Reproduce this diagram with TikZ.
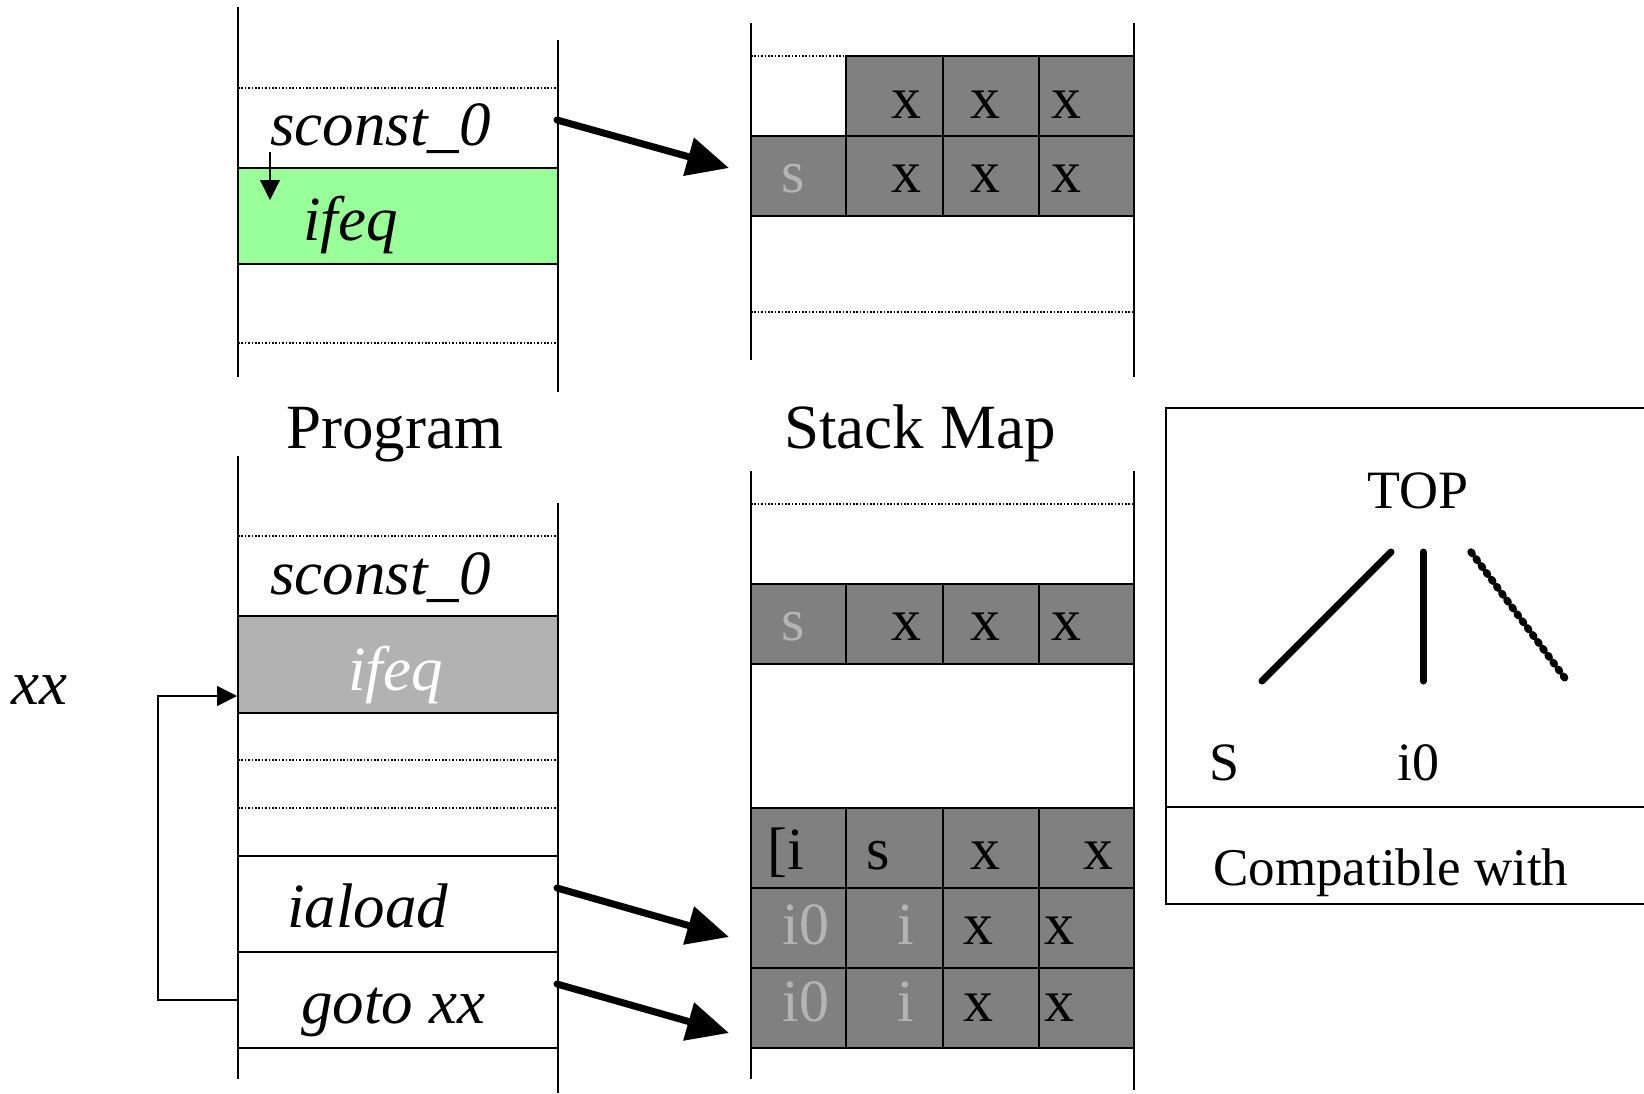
\documentclass[tikz,border=0pt]{standalone}
\usepackage{fontspec}
\setmainfont{Liberation Serif}
\usetikzlibrary{arrows.meta}

\definecolor{opgreen}{RGB}{153,255,153}
\definecolor{opgray}{RGB}{178,178,178}
\definecolor{slotgray}{RGB}{128,128,128}
\definecolor{fainttext}{RGB}{180,180,180}

\tikzset{
  rail/.style={line width=1pt},
  dotrule/.style={line width=0.7pt, dash pattern=on 0.8pt off 0.9pt},
  cellbox/.style={draw, line width=1pt},
  slot/.style={draw, line width=1pt, fill=slotgray},
  code/.style={font=\fontsize{31.5pt}{36pt}\selectfont\itshape, inner sep=0pt, anchor=base west},
  heading/.style={font=\fontsize{31.5pt}{36pt}\selectfont, inner sep=0pt, anchor=base west},
  celltext/.style={font=\fontsize{30pt}{34pt}\selectfont, inner sep=0pt, anchor=base},
  fainttxt/.style={celltext, text=fainttext},
  latticetxt/.style={font=\fontsize{27pt}{30pt}\selectfont, inner sep=0pt, anchor=base},
  bigarrow/.style={line width=3.5pt, line cap=round, -{Triangle[length=21pt,width=19pt]}},
  jump/.style={line width=0.9pt, -{Triangle[length=10pt,width=10pt]}},
  fall/.style={line width=0.6pt, -{Triangle[length=10pt,width=10pt]}},
  edge/.style={line width=3.5pt, line cap=round},
  dotedge/.style={line width=3.7pt, line cap=round, dash pattern=on 1pt off 3.3pt},
}

\begin{document}
\begin{tikzpicture}[x=0.5pt,y=-0.5pt]
\useasboundingbox (0,0) rectangle (1644,1093);

% ---------- upper program column ----------
\draw[rail] (238,7) -- (238,377);
\draw[rail] (558,40) -- (558,392);
\draw[dotrule] (238,88) -- (558,88);
\draw[dotrule] (238,343) -- (558,343);
\draw[cellbox, fill=opgreen] (238,168) rectangle (558,264);
\node[code] (tsconst) at (270,145) {sconst\_0};
\node[code] (tifeq) at (303,240) {ifeq};
\coordinate (fallA) at (270,152);
\coordinate (fallB) at (270,200);
\draw[fall] (fallA) -- (fallB);

% ---------- upper stack map ----------
\draw[rail] (751,23) -- (751,360);
\draw[rail] (1134,23) -- (1134,377);
\draw[dotrule] (751,56) -- (846,56);
\draw[dotrule] (751,312) -- (1134,312);
\foreach \xa/\xb in {846/943, 943/1039, 1039/1134}
  \draw[slot] (\xa,56) rectangle (\xb,136);
\foreach \xa/\xb in {751/846, 846/943, 943/1039, 1039/1134}
  \draw[slot] (\xa,136) rectangle (\xb,216);
\node[celltext] (ua2) at (906,118) {x};
\node[celltext] (ua3) at (985,118) {x};
\node[celltext] (ua4) at (1066,118) {x};
\node[fainttxt] (ub1) at (793,192) {s};
\node[celltext] (ub2) at (906,192) {x};
\node[celltext] (ub3) at (985,192) {x};
\node[celltext] (ub4) at (1066,192) {x};

% ---------- headings ----------
\node[heading] (hprog) at (286,448) {Program};
\node[heading] (hmap) at (784,448) {Stack Map};

% ---------- lower program column ----------
\draw[rail] (238,456) -- (238,1079);
\draw[rail] (558,503) -- (558,1093);
\draw[dotrule] (238,536) -- (558,536);
\draw[dotrule] (238,760) -- (558,760);
\draw[dotrule] (238,808) -- (558,808);
\draw[cellbox, fill=opgray] (238,616) rectangle (558,713);
\draw[cellbox] (238,856) rectangle (558,952);
\draw[cellbox] (238,952) rectangle (558,1048);
\node[code] (lsconst) at (270,594) {sconst\_0};
\node[code, text=white] (lifeq) at (348,690) {ifeq};
\node[code] (liaload) at (287,927) {iaload};
\node[code] (lgoto) at (301,1023) {goto xx};
\node[code] (lbl) at (11,704) {xx};

% backward branch of goto xx
\coordinate (loopFrom) at (238,1000);
\coordinate (loopTo) at (237,696);
\draw[jump] (loopFrom) -- (158,1000) -- (158,696) -- (loopTo);

% ---------- lower stack map ----------
\draw[rail] (751,471) -- (751,1079);
\draw[rail] (1134,471) -- (1134,1090);
\draw[dotrule] (751,504) -- (1134,504);
\foreach \ya/\yb in {584/664, 808/888, 888/968, 968/1048}
  \foreach \xa/\xb in {751/846, 846/943, 943/1039, 1039/1134}
    \draw[slot] (\xa,\ya) rectangle (\xb,\yb);
\node[fainttxt] (la1) at (793,640) {s};
\node[celltext] (la2) at (906,640) {x};
\node[celltext] (la3) at (985,640) {x};
\node[celltext] (la4) at (1066,640) {x};
\node[celltext, anchor=base west] (lb1) at (767,869) {[i};
\node[celltext] (lb2) at (878,869) {s};
\node[celltext] (lb3) at (985,869) {x};
\node[celltext] (lb4) at (1098,869) {x};
\node[fainttxt] (lc1) at (806,944) {i0};
\node[fainttxt] (lc2) at (906,944) {i};
\node[celltext] (lc3) at (978,944) {x};
\node[celltext] (lc4) at (1059,944) {x};
\node[fainttxt] (ld1) at (806,1021) {i0};
\node[fainttxt] (ld2) at (906,1021) {i};
\node[celltext] (ld3) at (978,1021) {x};
\node[celltext] (ld4) at (1059,1021) {x};

% ---------- instruction -> stack map arrows ----------
\coordinate (a1s) at (557,120);  \coordinate (a1e) at (729,168);
\coordinate (a2s) at (557,888);  \coordinate (a2e) at (729,937);
\coordinate (a3s) at (557,984);  \coordinate (a3e) at (729,1033);
\draw[bigarrow] (a1s) -- (a1e);
\draw[bigarrow] (a2s) -- (a2e);
\draw[bigarrow] (a3s) -- (a3e);

% ---------- type lattice box ----------
\draw[line width=1pt] (1644,408) -- (1166,408) -- (1166,904) -- (1644,904);
\draw[line width=1pt] (1166,807) -- (1644,807);
\node[latticetxt] (top) at (1418,508) {TOP};
\node[latticetxt] (ts) at (1225,780) {S};
\node[latticetxt] (ti0) at (1418,780) {i0};
\node[font=\fontsize{26.5pt}{30pt}\selectfont, inner sep=0pt, anchor=base west] (compat) at (1213,885) {Compatible with};
\coordinate (eL1) at (1391,552); \coordinate (eL2) at (1262,681);
\coordinate (eM1) at (1423,552); \coordinate (eM2) at (1423,681);
\coordinate (eR1) at (1471,552); \coordinate (eR2) at (1567,681);
\draw[edge] (eL1) -- (eL2);
\draw[edge] (eM1) -- (eM2);
\draw[dotedge] (eR1) -- (eR2);
\end{tikzpicture}
\end{document}
